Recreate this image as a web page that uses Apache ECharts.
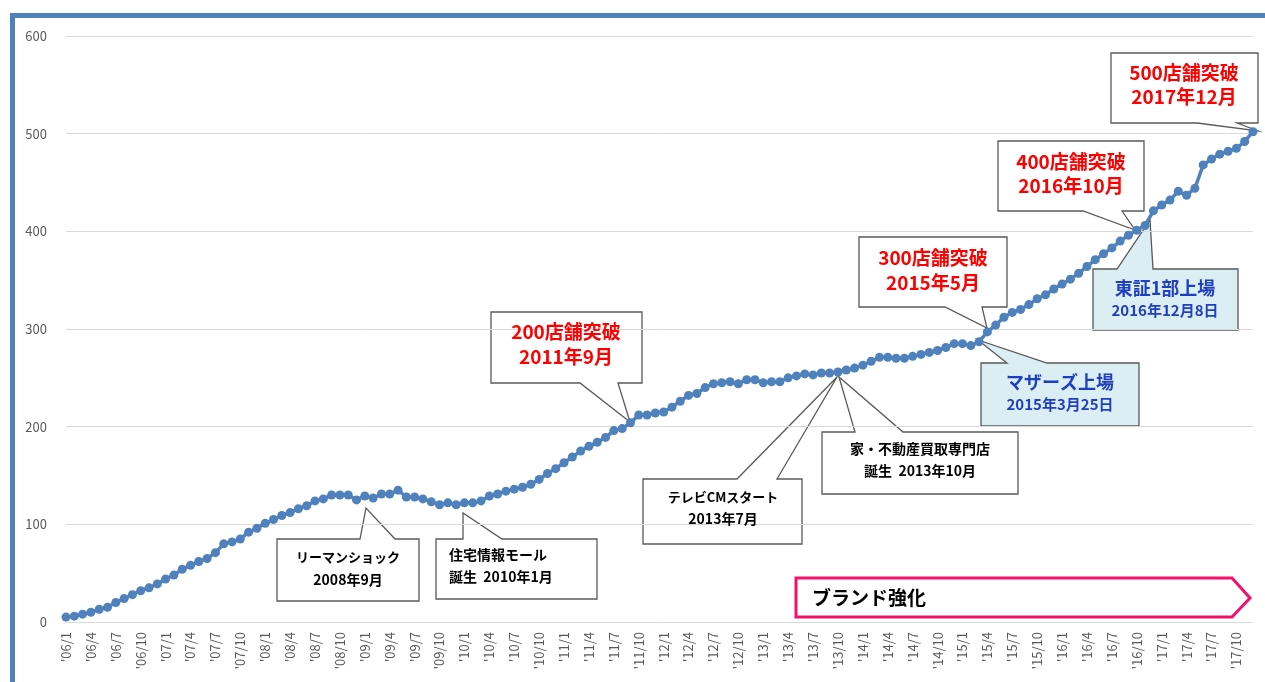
<!DOCTYPE html>
<html>
<head>
<meta charset="utf-8">
<script src="https://cdn.jsdelivr.net/npm/echarts@6/dist/echarts.min.js"></script>
<style>
html,body{margin:0;padding:0;background:#fff;}
#c{width:1265px;height:682px;}
</style>
</head>
<body>
<div id="c"></div>
<script>
// ---- data ----
const years = ['06','07','08','09','10','11','12','13','14','15','16','17'];
const monthNums = [1,2,3,4,5,6,7,8,9,10,11,12];
const v2006 = [5,6,8,10,13,15,20,24,28,32,35,39];
const v2007 = [44,48,54,58,62,65,71,80,82,85,92,96];
const v2008 = [101,105,109,112,116,119,124,126,130,130,130,125];
const v2009 = [129,127,131,131,135,128,128,126,123,120,122,120];
const v2010 = [122,122,124,129,131,134,136,138,141,146,152,157];
const v2011 = [163,169,175,180,184,189,196,198,204,212,212,214];
const v2012 = [215,220,226,232,234,240,244,245,246,244,248,248];
const v2013 = [245,246,246,250,252,254,253,255,255,256,258,260];
const v2014 = [263,267,271,271,270,270,272,274,276,278,281,285];
const v2015 = [285,283,287,297,304,312,317,320,325,331,335,341];
const v2016 = [346,351,357,364,371,377,383,390,396,401,406,421];
const v2017 = [427,432,441,437,444,468,474,479,482,485,492,502];
const yTicks = [0,100,200,300,400,500,600];

const categories = [];
years.forEach(y => monthNums.forEach(m => categories.push("'" + y + "/" + m)));
const values = [].concat(v2006,v2007,v2008,v2009,v2010,v2011,v2012,v2013,v2014,v2015,v2016,v2017);

// ---- annotation texts ----
const noteTexts = [
  ['リーマンショック','2008年9月'],
  ['住宅情報モール','誕生  2010年1月'],
  ['200店舗突破','2011年9月'],
  ['テレビCMスタート','2013年7月'],
  ['家・不動産買取専門店','誕生  2013年10月'],
  ['300店舗突破','2015年5月'],
  ['マザーズ上場','2015年3月25日'],
  ['東証1部上場','2016年12月8日'],
  ['400店舗突破','2016年10月'],
  ['500店舗突破','2017年12月']
];
const brandText = 'ブランド強化';

// ---- layout / style of annotations ----
const FONT = '"Noto Sans CJK JP","Noto Sans",sans-serif';
const RED = '#FF0000', BLUE = '#1F3FC0', BLK = '#000000';
const layout = [
  {box:[277,539,419,601], side:'top', base:[360,395], tip:[366,508], fill:'#fff', cx:348, align:'center', ys:[557,580], sizes:[13,14], color:BLK},
  {box:[436,539,597,599], side:'top', base:[463,502], tip:[463,513], fill:'#fff', cx:449, align:'left', ys:[555,577], sizes:[14,14], color:BLK},
  {box:[491,312,642,383], side:'bottom', base:[580,618], tip:[630,422], fill:'#fff', cx:566, align:'center', ys:[332,357], sizes:[19,19], color:RED},
  {box:[643,479,802,544], side:'top', base:[737,777], tip:[837,377], fill:'#fff', cx:723, align:'center', ys:[497,519], sizes:[13,14], color:BLK},
  {box:[822,432,1018,494], side:'top', base:[855,903], tip:[839,377], fill:'#fff', cx:920, align:'center', ys:[449,471], sizes:[14,14], color:BLK},
  {box:[859,237,1007,307], side:'bottom', base:[945,982], tip:[987,328], fill:'#fff', cx:933, align:'center', ys:[258,283], sizes:[19,19], color:RED},
  {box:[981,363,1139,426], side:'top', base:[1007,1047], tip:[978,340], fill:'#DAEEF3', cx:1060, align:'center', ys:[382,404], sizes:[18,15], color:BLUE},
  {box:[1093,269,1238,330], side:'top', base:[1117,1153], tip:[1150,220], fill:'#DAEEF3', cx:1165, align:'center', ys:[288,310], sizes:[18,15], color:BLUE},
  {box:[998,141,1144,211], side:'bottom', base:[1083,1122], tip:[1135,230], fill:'#fff', cx:1071, align:'center', ys:[162,186], sizes:[19,19], color:RED},
  {box:[1111,53,1258,123], side:'bottom', base:[1197,1237], tip:[1258,131], fill:'#fff', cx:1184, align:'center', ys:[73,97], sizes:[19,19], color:RED}
];

function calloutPoints(L){
  const [x1,y1,x2,y2] = L.box, [a,b] = L.base, t = L.tip;
  if (L.side === 'top') {
    return [[x1,y1],[a,y1],t,[b,y1],[x2,y1],[x2,y2],[x1,y2]];
  }
  return [[x1,y1],[x2,y1],[x2,y2],[b,y2],t,[a,y2],[x1,y2]];
}

const graphics = [];
// outer frame
graphics.push({type:'polyline', z:10, shape:{points:[[12.5,700],[12.5,15.5],[1275,15.5]]}, style:{stroke:'#4F81BD', lineWidth:5, fill:null}});
// brand arrow
graphics.push({type:'polygon', shape:{points:[[796,578],[1232,578],[1250,598],[1232,617],[796,617]]}, style:{fill:'#fff', stroke:'#F5106B', lineWidth:3}});
graphics.push({type:'text', style:{text:brandText, x:812, y:598, align:'left', verticalAlign:'middle', font:'bold 19px ' + FONT, fill:'#000'}});

layout.forEach((L,i) => {
  graphics.push({type:'polygon', shape:{points:calloutPoints(L)}, style:{fill:L.fill, stroke:'#595959', lineWidth:1.3}});
  noteTexts[i].forEach((t,k) => {
    graphics.push({type:'text', z:5, style:{text:t, x:L.cx, y:L.ys[k], align:L.align, verticalAlign:'middle', font:'bold ' + L.sizes[k] + 'px ' + FONT, fill:L.color}});
  });
});

const chart = echarts.init(document.getElementById('c'), null, {renderer:'canvas'});
chart.setOption({
  animation:false,
  backgroundColor:'#fff',
  grid:{left:66, right:12, top:36, bottom:60, containLabel:false},
  xAxis:{
    type:'category', data:categories, boundaryGap:false,
    axisLine:{show:true, lineStyle:{color:'#D9D9D9', width:1}},
    axisTick:{show:false},
    axisLabel:{interval:2, rotate:90, fontSize:13, color:'#595959', margin:10, fontFamily:FONT},
    splitLine:{show:false}
  },
  yAxis:{
    type:'value', min:yTicks[0], max:yTicks[yTicks.length-1], interval:100,
    axisLine:{show:false}, axisTick:{show:false},
    axisLabel:{fontSize:13, color:'#595959', margin:19, fontFamily:FONT},
    splitLine:{lineStyle:{color:'#D9D9D9', width:1}}
  },
  series:[{
    type:'line', data:values, symbol:'circle', symbolSize:9, showAllSymbol:true,
    lineStyle:{color:'#4F81BD', width:3.5},
    itemStyle:{color:'#4F81BD'},
    z:3
  }],
  graphic:{elements:graphics}
});
</script>
</body>
</html>
